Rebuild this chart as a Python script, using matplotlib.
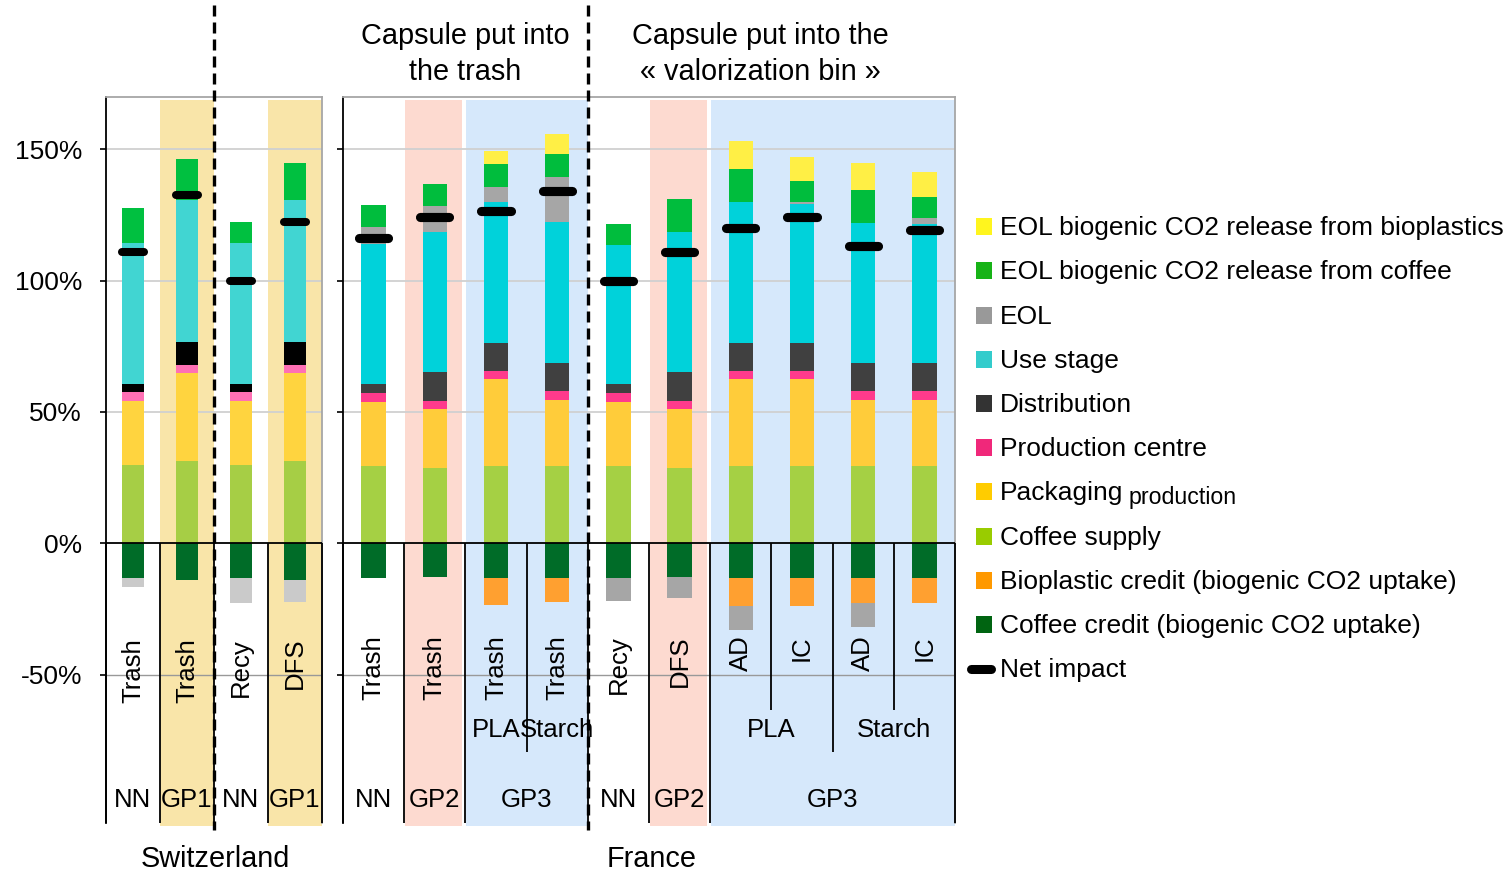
import numpy as np
import matplotlib
matplotlib.use('Agg')
import matplotlib.pyplot as plt
from matplotlib.patches import Rectangle
from matplotlib.lines import Line2D

plt.rcParams['font.family'] = ['Liberation Sans', 'DejaVu Sans']

W, H = 1509, 872

# stacking order (Excel series order): negatives first, then positives bottom-up
series = ['Coffee credit (biogenic CO2 uptake)', 'Bioplastic credit (biogenic CO2 uptake)',
          'Coffee supply', 'Packaging production', 'Production centre', 'Distribution',
          'Use stage', 'EOL', 'EOL biogenic CO2 release from coffee',
          'EOL biogenic CO2 release from bioplastics']

# ---- Switzerland ----
ch_level1 = ['Trash', 'Trash', 'Recy', 'DFS']
ch_level2 = ['NN', 'GP1', 'NN', 'GP1']
ch_coffee_credit = [-13.3, -14.0, -13.3, -14.0]
ch_bio_credit = [0, 0, 0, 0]
ch_coffee_supply = [29.8, 31.4, 29.8, 31.4]
ch_packaging = [24.5, 33.3, 24.5, 33.3]
ch_production = [3.4, 3.1, 3.4, 3.1]
ch_distribution = [2.9, 8.9, 2.9, 8.9]
ch_use_stage = [53.6, 53.9, 53.8, 53.9]
ch_eol = [-3.2, 0, -9.5, -8.2]
ch_eol_coffee = [13.3, 15.5, 8.0, 14.0]
ch_eol_bio = [0, 0, 0, 0]
ch_net = [111.0, 132.5, 99.8, 122.4]

# ---- France ----
fr_level1 = ['Trash', 'Trash', 'Trash', 'Trash', 'Recy', 'DFS', 'AD', 'IC', 'AD', 'IC']
fr_level2 = ['PLA', 'Starch', 'PLA', 'Starch']
fr_level3 = ['NN', 'GP2', 'GP3', 'NN', 'GP2', 'GP3']
fr_coffee_credit = [-13.3, -13.0, -13.3, -13.3, -13.3, -13.0, -13.3, -13.3, -13.3, -13.3]
fr_bio_credit = [0, 0, -10.2, -8.9, 0, 0, -10.6, -10.4, -9.3, -9.3]
fr_coffee_supply = [29.4, 28.8, 29.4, 29.4, 29.4, 28.8, 29.4, 29.4, 29.4, 29.4]
fr_packaging = [24.5, 22.2, 33.0, 25.2, 24.5, 22.2, 33.0, 33.0, 25.2, 25.2]
fr_production = [3.2, 3.3, 3.3, 3.3, 3.2, 3.3, 3.3, 3.3, 3.3, 3.3]
fr_distribution = [3.4, 10.7, 10.6, 10.7, 3.4, 10.7, 10.6, 10.6, 10.7, 10.7]
fr_use_stage = [53.5, 53.3, 53.6, 53.6, 53.0, 53.3, 53.5, 52.9, 53.2, 52.9]
fr_eol = [6.3, 9.9, 5.6, 17.2, -8.5, -7.9, -9.1, 0.7, -9.3, 2.4]
fr_eol_coffee = [8.6, 8.5, 8.8, 8.6, 8.0, 12.7, 12.7, 8.0, 12.5, 8.0]
fr_eol_bio = [0, 0, 5.1, 7.8, 0, 0, 10.4, 9.2, 10.3, 9.3]
fr_net = [116.0, 124.0, 126.4, 134.0, 100.0, 110.8, 119.9, 124.0, 113.2, 119.2]

ch_colors = ['#006C28', '#FFA030', '#A6CE45', '#FFD43F', '#FF70B4', '#000000',
             '#41D5D2', '#CACACA', '#00C040', '#FFEF45']
fr_colors = ['#006C28', '#FFA030', '#A5D044', '#FFCC3A', '#FF3A8C', '#404040',
             '#00D2DA', '#A6A6A6', '#00BD3D', '#FFEF45']

ZERO_PX, PX_PER = 543.3, 2.628
Y_TOP = (ZERO_PX - 97) / PX_PER
Y_BOT = (ZERO_PX - 823) / PX_PER
Y_SHADE = (ZERO_PX - 100) / PX_PER
Y_L1 = (ZERO_PX - 710) / PX_PER
Y_L2 = (ZERO_PX - 752) / PX_PER

fig = plt.figure(figsize=(W / 100, H / 100), dpi=100)


def px_axes(x0, x1, y0, y1):
    return fig.add_axes([x0 / W, 1 - y1 / H, (x1 - x0) / W, (y1 - y0) / H])


def setup(ax, n, labels):
    ax.set_xlim(0.5, n + 0.5)
    ax.set_ylim(Y_BOT, Y_TOP)
    ax.set_xticks([])
    ax.set_yticks([-50, 0, 50, 100, 150])
    if labels:
        ax.set_yticklabels(['-50%', '0%', '50%', '100%', '150%'], fontsize=19)
    else:
        ax.set_yticklabels([])
    ax.tick_params(axis='y', length=4.3, width=1.2, pad=13, direction='out')
    for y in (50, 100, 150):
        ax.axhline(y, color='#D0D0D0', lw=1.3, zorder=0.5)
    ax.axhline(-50, color='#999999', lw=1.0, zorder=0.5)
    ax.axhline(0, color='black', lw=1.3, zorder=3)
    ax.spines['bottom'].set_visible(False)
    ax.spines['left'].set_color('black')
    ax.spines['left'].set_linewidth(1.3)
    for s in ('top', 'right'):
        ax.spines[s].set_color('#A6A6A6')
        ax.spines[s].set_linewidth(1.3)


def shade(ax, x0, x1, color):
    ax.add_patch(Rectangle((x0, Y_BOT - 1.2), x1 - x0, Y_SHADE - Y_BOT + 1.2,
                           facecolor=color, edgecolor='none', zorder=0, clip_on=False))


def draw_stack(ax, values, colors, width):
    x = np.arange(1, len(values[0]) + 1)
    pos = np.zeros(len(x))
    neg = np.zeros(len(x))
    for vals, col in zip(values, colors):
        vals = np.array(vals, float)
        bottom = np.where(vals >= 0, pos, neg)
        ax.bar(x, vals, width, bottom=bottom, color=col, linewidth=0, zorder=2)
        pos += np.clip(vals, 0, None)
        neg += np.clip(vals, None, 0)
    return x


# ---- Switzerland panel ----
ax_ch = px_axes(106, 322, 97, 823)
setup(ax_ch, 4, True)
shade(ax_ch, 1.5, 2.5, '#F9E5A9')
shade(ax_ch, 3.5, 4.5, '#F9E5A9')
x_ch = draw_stack(ax_ch, [ch_coffee_credit, ch_bio_credit, ch_coffee_supply, ch_packaging,
                          ch_production, ch_distribution, ch_use_stage, ch_eol,
                          ch_eol_coffee, ch_eol_bio], ch_colors, 0.41)
ax_ch.hlines(ch_net, x_ch - 0.2, x_ch + 0.2, color='black', lw=5.8, zorder=4,
             capstyle='round')
ax_ch.vlines([0.5, 1.5, 2.5, 3.5, 4.5], Y_BOT, 0, color='black', lw=1.3, zorder=3,
             clip_on=False)
for xi, lab in zip(x_ch, ch_level1):
    ax_ch.text(xi, -36.0, lab, rotation=90, ha='center', va='top', fontsize=18.5, zorder=5)
for xi, lab in zip(x_ch, ch_level2):
    ax_ch.text(xi, -100.3, lab, ha='center', va='baseline', fontsize=18.5, zorder=5)

# ---- France panel ----
ax_fr = px_axes(343, 955, 97, 823)
setup(ax_fr, 10, False)
shade(ax_fr, 1.52, 2.45, '#FDDAD0')
shade(ax_fr, 2.51, 4.5, '#D6E8FB')
shade(ax_fr, 5.52, 6.45, '#FDDAD0')
shade(ax_fr, 6.51, 10.5, '#D6E8FB')
x_fr = draw_stack(ax_fr, [fr_coffee_credit, fr_bio_credit, fr_coffee_supply, fr_packaging,
                          fr_production, fr_distribution, fr_use_stage, fr_eol,
                          fr_eol_coffee, fr_eol_bio], fr_colors, 0.40)
ax_fr.hlines(fr_net, x_fr - 0.24, x_fr + 0.24, color='black', lw=6.6, zorder=4,
             capstyle='round')
ax_fr.vlines([0.5, 1.5, 2.5, 4.5, 5.5, 6.5, 10.5], Y_BOT, 0, color='black', lw=1.3,
             zorder=3, clip_on=False)
ax_fr.vlines([3.5, 8.5], Y_L2, 0, color='black', lw=1.3, zorder=3)
ax_fr.vlines([7.5, 9.5], Y_L1, 0, color='black', lw=1.3, zorder=3)
for xi, lab in zip(x_fr, fr_level1):
    ax_fr.text(xi, -35.0, lab, rotation=90, ha='center', va='top', fontsize=18.5, zorder=5)
for xi, lab in zip([3, 4, 7.5, 9.5], fr_level2):
    ax_fr.text(xi, -73.7, lab, ha='center', va='baseline', fontsize=18.5, zorder=5)
for xi, lab in zip([1, 2, 3.5, 5, 6, 8.5], fr_level3):
    ax_fr.text(xi, -100.3, lab, ha='center', va='baseline', fontsize=18.5, zorder=5)

# dashed separators
for xp in (214, 588):
    fig.add_artist(Line2D([xp / W, xp / W], [1 - 5 / H, 1 - 830 / H], color='black',
                          lw=2.4, linestyle=(0, (3.3, 1.8))))

# header / footer texts
def ftext(x, y, s, **kw):
    fig.text(x / W, 1 - y / H, s, **kw)

ftext(465, 44, 'Capsule put into', ha='center', va='baseline', fontsize=20.8)
ftext(465, 80, 'the trash', ha='center', va='baseline', fontsize=20.8)
ftext(760, 44, 'Capsule put into the', ha='center', va='baseline', fontsize=20.8)
ftext(760, 80, '« valorization bin »', ha='center', va='baseline', fontsize=20.8)
ftext(215, 867, 'Switzerland', ha='center', va='baseline', fontsize=20.8)
ftext(652, 867, 'France', ha='center', va='baseline', fontsize=20.8)

# legend
leg_labels = ['EOL biogenic CO2 release from bioplastics', 'EOL biogenic CO2 release from coffee',
              'EOL', 'Use stage', 'Distribution', 'Production centre', 'Packaging',
              'Coffee supply', 'Bioplastic credit (biogenic CO2 uptake)',
              'Coffee credit (biogenic CO2 uptake)']
leg_colors = ['#FFF51E', '#17B317', '#999999', '#33CCCC', '#333333', '#F0287A',
              '#FFCC00', '#99CC00', '#FF9900', '#006411']
for i, (lab, col) in enumerate(zip(leg_labels, leg_colors)):
    yc = 226.7 + i * 44.2
    fig.add_artist(Rectangle((976 / W, 1 - (yc + 8.5) / H), 16 / W, 17 / H,
                             facecolor=col, edgecolor='none', transform=fig.transFigure))
    ftext(1000, yc + 8.5, lab, ha='left', va='baseline', fontsize=19)
    if lab == 'Packaging':
        ftext(1129, yc + 12, 'production', ha='left', va='baseline', fontsize=16.7)
yc = 226.7 + 10 * 44.2
fig.add_artist(Line2D([971 / W, 991 / W], [1 - yc / H, 1 - yc / H], color='black',
                      lw=6.5, solid_capstyle='round'))
ftext(1000, yc + 8.5, 'Net impact', ha='left', va='baseline', fontsize=19)

fig.savefig('out.png', dpi=100)
